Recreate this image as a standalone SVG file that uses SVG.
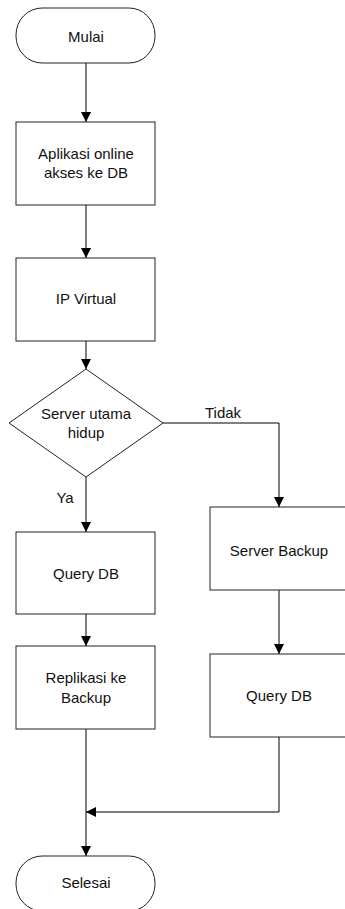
<svg xmlns="http://www.w3.org/2000/svg" width="345" height="909" viewBox="0 0 345 909">
<defs>
<style>
.shape{fill:#fff;stroke:#222;stroke-width:1}
.line{fill:none;stroke:#000;stroke-width:1}
text{font-family:"Liberation Sans",Arial,sans-serif;font-size:15px;fill:#111;text-anchor:middle}
</style>
<marker id="arr" markerUnits="userSpaceOnUse" markerWidth="10" markerHeight="10" refX="10" refY="5" orient="auto">
<path d="M0,0 L10,5 L0,10 z" fill="#000"/>
</marker>
</defs>
<rect width="345" height="909" fill="#fff"/>
<g id="connectors">
<path class="line" d="M86,63 V122" marker-end="url(#arr)"/>
<path class="line" d="M86,205 V258" marker-end="url(#arr)"/>
<path class="line" d="M86,341 V369" marker-end="url(#arr)"/>
<path class="line" d="M86,477 V532" marker-end="url(#arr)"/>
<path class="line" d="M163,423 H279 V507" marker-end="url(#arr)"/>
<path class="line" d="M279,590 V654" marker-end="url(#arr)"/>
<path class="line" d="M86,614 V646" marker-end="url(#arr)"/>
<path class="line" d="M279,737 V812 H86" marker-end="url(#arr)"/>
<path class="line" d="M86,729 V856" marker-end="url(#arr)"/>
<text x="223" y="418">Tidak</text>
<text x="65" y="503">Ya</text>
</g>
<g id="mulai">
<rect class="shape" x="16" y="8" width="139" height="55" rx="26" ry="27"/>
<text x="86" y="42">Mulai</text>
</g>
<g id="aplikasi">
<rect class="shape" x="16" y="122" width="139" height="83"/>
<text x="86" y="159">Aplikasi online</text>
<text x="86" y="178">akses ke DB</text>
</g>
<g id="ipvirtual">
<rect class="shape" x="16" y="258" width="139" height="83"/>
<text x="86" y="304">IP Virtual</text>
</g>
<g id="decision">
<polygon class="shape" points="86,369 163,423 86,477 9,423"/>
<text x="86" y="419">Server utama</text>
<text x="86" y="438">hidup</text>
</g>
<g id="query1">
<rect class="shape" x="16" y="532" width="139" height="82"/>
<text x="86" y="579">Query DB</text>
</g>
<g id="replikasi">
<rect class="shape" x="16" y="646" width="139" height="83"/>
<text x="86" y="683">Replikasi ke</text>
<text x="86" y="703">Backup</text>
</g>
<g id="serverbackup">
<rect class="shape" x="210" y="507" width="138" height="83"/>
<text x="279" y="556">Server Backup</text>
</g>
<g id="query2">
<rect class="shape" x="210" y="654" width="138" height="83"/>
<text x="279" y="701">Query DB</text>
</g>
<g id="selesai">
<rect class="shape" x="16" y="856" width="139" height="55" rx="26" ry="27"/>
<text x="86" y="888">Selesai</text>
</g>
</svg>
